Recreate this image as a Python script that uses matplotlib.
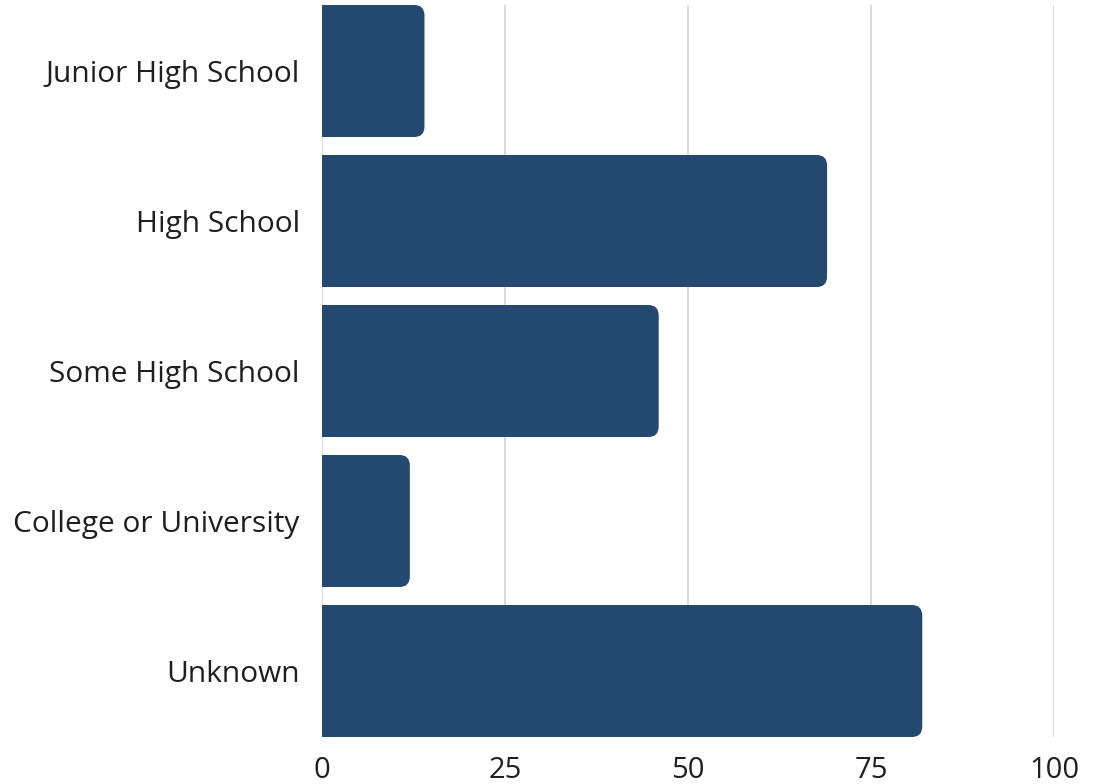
import matplotlib

matplotlib.use("Agg")
import matplotlib.pyplot as plt
from matplotlib.path import Path
from matplotlib.patches import PathPatch

categories = ["Junior High School", "High School", "Some High School",
              "College or University", "Unknown"]
values = [14, 69, 46, 12, 82]
xticks = [0, 25, 50, 75, 100]

BAR_COLOR = "#244970"
plt.rcParams["font.family"] = ["Open Sans", "DejaVu Sans"]


def rounded_bar(ax, y, w, h, rx, ry):
    # bar from x=0 to w, rounded on the right side only
    y0, y1 = y - h / 2, y + h / 2
    verts = [(0, y0), (w - rx, y0), (w, y0), (w, y0 + ry),
             (w, y1 - ry), (w, y1), (w - rx, y1), (0, y1), (0, y0)]
    codes = [Path.MOVETO, Path.LINETO, Path.CURVE3, Path.CURVE3,
             Path.LINETO, Path.CURVE3, Path.CURVE3, Path.LINETO, Path.CLOSEPOLY]
    ax.add_patch(PathPatch(Path(verts, codes), facecolor=BAR_COLOR,
                           edgecolor="none", zorder=3))


fig = plt.figure(figsize=(10.99, 7.84), dpi=100)
ax = fig.add_axes([322 / 1099, 1 - 737 / 784, (1054 - 322) / 1099, 732 / 784])

height = 0.88
ys = list(range(len(categories)))[::-1]
for y, v in zip(ys, values):
    rounded_bar(ax, y, v, height, rx=1.4, ry=0.07)

ax.set_xlim(0, 100)
ax.set_ylim(-0.44, len(categories) - 1 + 0.44)
ax.set_yticks(ys)
ax.set_yticklabels(categories, fontsize=21.5, color="#1f1f1f")
ax.set_xticks(xticks)
ax.set_xticklabels([str(t) for t in xticks], fontsize=21, color="#1f1f1f")
ax.tick_params(axis="both", length=0)
ax.tick_params(axis="y", pad=16)
ax.tick_params(axis="x", pad=14)
for s in ax.spines.values():
    s.set_visible(False)
ax.grid(axis="x", color="#dcdcdc", linewidth=1.4, zorder=0)
ax.set_axisbelow(True)

fig.savefig("out.png")
